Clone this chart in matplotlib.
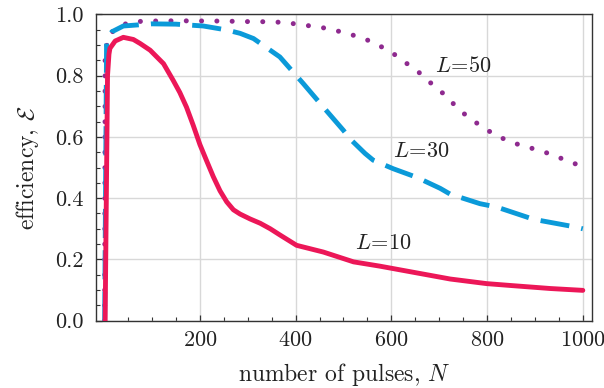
import numpy as np
import matplotlib
matplotlib.use("Agg")
from matplotlib import pyplot as plt
from matplotlib.ticker import MultipleLocator, FixedLocator, FormatStrFormatter

plt.rcParams['font.family'] = 'serif'
plt.rcParams['font.serif'] = ['cmr10']
plt.rcParams['mathtext.fontset'] = 'cm'
plt.rcParams['axes.formatter.use_mathtext'] = True

# L = 10
n_10 = [2, 7, 10, 12, 23, 40, 61, 75, 96, 124, 144, 158, 172, 186, 200, 214, 228, 242,
        256, 270, 284, 305, 326, 347, 367, 402, 458, 521, 576, 625, 723, 799, 848, 932,
        1000]
e_10 = [0.0, 0.80, 0.87, 0.889, 0.913, 0.925, 0.918, 0.905, 0.883, 0.839, 0.785, 0.745,
        0.697, 0.638, 0.575, 0.522, 0.470, 0.424, 0.388, 0.362, 0.348, 0.332, 0.318,
        0.300, 0.280, 0.246, 0.224, 0.192, 0.178, 0.164, 0.136, 0.121, 0.115, 0.105,
        0.099]

# L = 30
n_30 = [1, 5, 16, 40, 100, 150, 207, 256, 284, 312, 367, 416, 458, 500, 514, 545, 562,
        604, 653, 702, 723, 785, 820, 897, 984, 1000]
e_30 = [0.0, 0.905, 0.943, 0.962, 0.969, 0.968, 0.962, 0.949, 0.938, 0.921, 0.861,
        0.774, 0.697, 0.621, 0.593, 0.546, 0.524, 0.496, 0.468, 0.432, 0.413, 0.382,
        0.371, 0.331, 0.306, 0.300]

# L = 50
n_50 = [1, 2, 7, 21, 52, 84, 150, 250, 312, 350, 385, 416, 449, 482, 514, 546, 576,
        604, 631, 658, 683, 708, 731, 756, 783, 812, 842, 873, 905, 936, 967, 1000]
e_50 = [0.0, 0.86, 0.916, 0.952, 0.974, 0.978, 0.979, 0.978, 0.976, 0.976, 0.972, 0.965,
        0.959, 0.948, 0.935, 0.919, 0.897, 0.872, 0.841, 0.810, 0.775, 0.742, 0.706,
        0.670, 0.640, 0.611, 0.588, 0.571, 0.558, 0.542, 0.522, 0.503]

labels = [r'$L\!=\!10$', r'$L\!=\!30$', r'$L\!=\!50$']
label_pos = [(583, 0.253), (662, 0.552), (750, 0.832)]

fig = plt.figure(figsize=(6.04, 3.88), dpi=100)
ax = fig.add_axes([0.159, 0.1735, 0.821, 0.7895])

ax.plot(n_50, e_50, color='#8e2a8f', lw=3.6, linestyle=(0, (0.01, 3.05)),
        dash_capstyle='round', zorder=3)
ax.plot(n_30, e_30, color='#0b9ad9', lw=3.5, linestyle=(0, (6, 2.5)), zorder=3)
ax.plot(n_10, e_10, color='#ec1758', lw=3.5, solid_capstyle='round',
        solid_joinstyle='round', zorder=4)

for txt, (x, y) in zip(labels, label_pos):
    ax.text(x, y, txt, fontsize=16, ha='center', va='center', color='#222222')

ax.set_xlim(-17, 1019)
ax.set_ylim(0, 1.0)
ax.xaxis.set_major_locator(FixedLocator([200, 400, 600, 800, 1000]))
ax.xaxis.set_minor_locator(MultipleLocator(50))
ax.yaxis.set_major_locator(MultipleLocator(0.2))
ax.yaxis.set_minor_locator(MultipleLocator(0.05))
ax.yaxis.set_major_formatter(FormatStrFormatter('%.1f'))
ax.grid(True, which='major', color='#d8d8d8', lw=1.0, zorder=0)
ax.set_axisbelow(True)
ax.tick_params(which='both', direction='in', top=False, right=False, labelsize=16,
               color='#333333', labelcolor='#222222')
ax.tick_params(axis='y', which='major', length=4.5, width=0.9, pad=9)
ax.tick_params(axis='x', which='major', length=4.5, width=0.9, pad=7)
ax.tick_params(which='minor', length=3, width=0.8)
for s in ax.spines.values():
    s.set_color('#333333')
    s.set_linewidth(1.0)

ax.set_xlabel(r'number of pulses, $N$', fontsize=17, color='#222222', labelpad=8)
ax.set_ylabel(r'efficiency, $\mathcal{E}$', fontsize=17, color='#222222', labelpad=10)

fig.savefig('out.png', dpi=100)
